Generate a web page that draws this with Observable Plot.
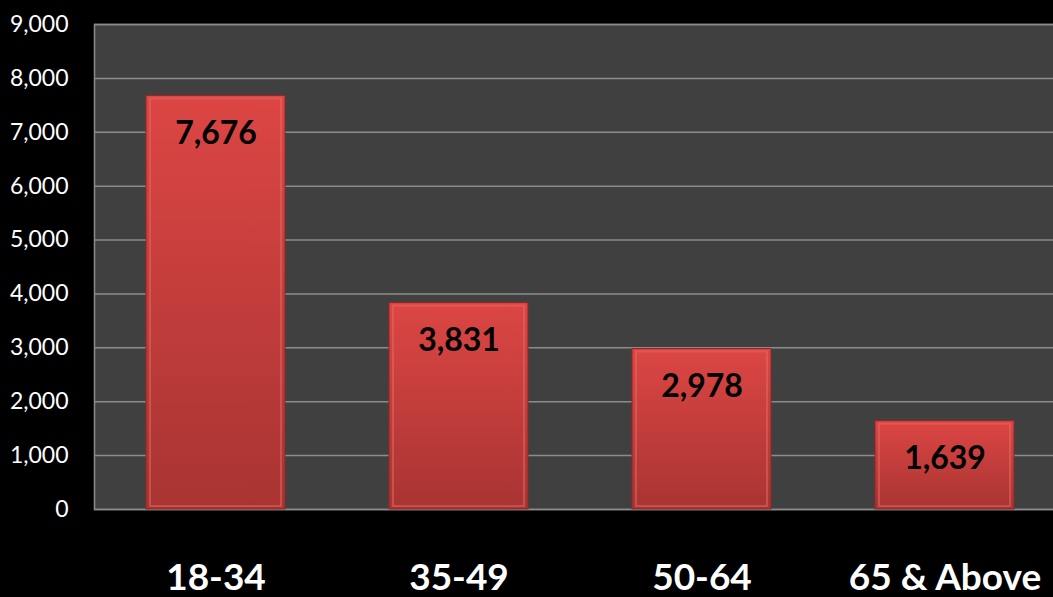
<!DOCTYPE html>
<html>
<head>
<meta charset="utf-8">
<script src="https://cdn.jsdelivr.net/npm/d3@7"></script>
<script src="https://cdn.jsdelivr.net/npm/@observablehq/plot@0.6"></script>
<style>
  html, body { margin: 0; padding: 0; background: #000; }
  #chart svg { display: block; }
</style>
</head>
<body>
<div id="chart"></div>
<script>
const categories = ["18-34", "35-49", "50-64", "65 & Above"];
const values = [7676, 3831, 2978, 1639];
const yTicks = [0, 1000, 2000, 3000, 4000, 5000, 6000, 7000, 8000, 9000];

const data = categories.map((c, i) => ({category: c, value: values[i]}));
const fmt = d3.format(",");

const chart = Plot.plot({
  width: 1053,
  height: 597,
  marginLeft: 94,
  marginRight: 0,
  marginTop: 24,
  marginBottom: 88,
  style: {background: "#000", color: "#fff", fontFamily: "Lato, 'Open Sans', sans-serif"},
  x: {domain: categories, range: [94, 1066], paddingInner: 0.43, paddingOuter: 0.215, label: null},
  y: {domain: [0, 9000], label: null},
  marks: [
    Plot.frame({fill: "#404040", stroke: "#8c8c8c", strokeWidth: 1.5, insetRight: -10}),
    Plot.ruleY(yTicks, {stroke: "#8c8c8c", strokeWidth: 1.5}),
    Plot.barY(data, {x: "category", y: "value", fill: "url(#barGrad)", stroke: "#8a2826", strokeWidth: 1}),
    Plot.barY(data, {x: "category", y: "value", fill: "none", stroke: "#e86a66", strokeWidth: 2, insetLeft: 4, insetRight: 4, insetTop: 3, insetBottom: 3, strokeOpacity: 0.5}),
    Plot.text(data, {x: "category", y: "value", text: d => fmt(d.value), dy: 38, fill: "#000", fontSize: 32, fontWeight: "bold"}),
    Plot.axisY(yTicks, {tickSize: 0, tickPadding: 26, tickFormat: d => fmt(d), fontSize: 23, fill: "#fff", label: null}),
    Plot.axisX({tickSize: 0, tickPadding: 54, fontSize: 37, fontWeight: "bold", fill: "#fff", label: null})
  ]
});

const svg = d3.select(chart);
const defs = svg.insert("defs", ":first-child");
const g = defs.append("linearGradient").attr("id", "barGrad").attr("x1", 0).attr("y1", 0).attr("x2", 0).attr("y2", 1);
g.append("stop").attr("offset", "0%").attr("stop-color", "#dc4644");
g.append("stop").attr("offset", "100%").attr("stop-color", "#a83432");

document.getElementById("chart").appendChild(chart);
</script>
</body>
</html>
